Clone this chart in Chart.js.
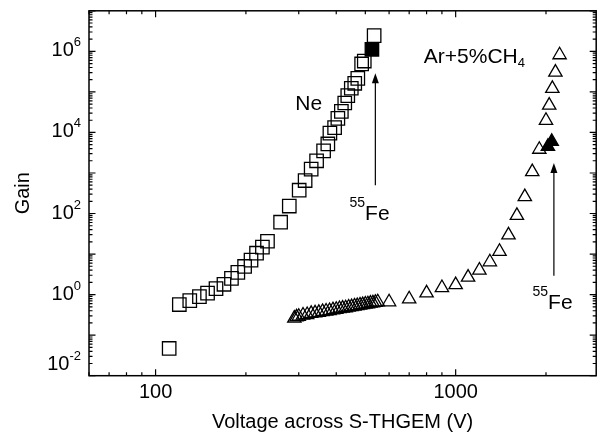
<!DOCTYPE html>
<html>
<head>
<meta charset="utf-8">
<script src="https://cdn.jsdelivr.net/npm/chart.js@4.4.0/dist/chart.umd.min.js"></script>
<style>
  html, body { margin: 0; padding: 0; background: #fff; }
  canvas { display: block; }
</style>
</head>
<body>
<canvas id="gainChart" width="607" height="434"></canvas>
<script>
// Ne: gain vs voltage across the S-THGEM
var neVoltage = [111, 120, 130, 140, 149, 159, 169, 179, 188, 198, 208, 217, 227, 236,
  261, 279, 301, 315, 330, 344, 363, 375, 381, 395, 405, 416, 427, 437, 449, 461, 472, 486, 496, 535];
var neGain = [0.047, 0.57, 0.71, 0.89, 1.09, 1.40, 1.80, 2.52, 3.53, 4.95, 7.1, 10.5, 14.8, 20.7,
  61, 153, 376, 651, 1240, 2000, 3500, 5190, 9620, 13100, 22300, 33000, 53200, 81000,
  123000, 163000, 216000, 488000, 577000, 2450000];
// Ne point taken with the 55Fe source
var neFeVoltage = [526];
var neFeGain = [1120000];

// Ar+5%CH4
var arVoltage = [290, 295, 300, 310, 320, 330, 340, 350, 360, 370, 380, 390, 400, 410,
  420, 430, 440, 450, 460, 470, 480, 490, 500, 510, 520, 530, 540, 550,
  600, 700, 800, 900, 1000, 1100, 1200, 1300, 1400, 1500, 1600, 1700, 1800, 1900,
  2000, 2050, 2100, 2150, 2220];
var arGain = [0.26, 0.28, 0.29, 0.31, 0.32, 0.34, 0.35, 0.36, 0.38, 0.39, 0.40, 0.42, 0.43, 0.45,
  0.46, 0.47, 0.49, 0.50, 0.52, 0.53, 0.55, 0.56, 0.58, 0.59, 0.61, 0.62, 0.64, 0.66,
  0.66, 0.78, 1.09, 1.48, 1.75, 2.67, 4.0, 6.4, 11.6, 29.4, 89, 258, 1070, 3810,
  19700, 46800, 121000, 303000, 817000];
// Ar+5%CH4 points taken with the 55Fe source
var arFeVoltage = [2030, 2090];
var arFeGain = [4500, 6000];

// axis ranges and labelled ticks
var xRange = [60, 2940];
var yRange = [0.01, 1e7];
var xTickLabels = [100, 1000];
var yTickExponents = [-2, 0, 2, 4, 6];

// arrows and text placed in data units
var arrows = [
  { x: 540, from: 500, to: 290000 },
  { x: 2125, from: 2.9, to: 1770 }
];
var notes = [
  { x: 292, y: 36500, parts: [['Ne', 'big', 0]] },
  { x: 443, y: 70, parts: [['55', 'sup', -13], ['Fe', 'big', 0]] },
  { x: 1804, y: 0.45, parts: [['55', 'sup', -13], ['Fe', 'big', 0]] },
  { x: 783, y: 516000, parts: [['Ar+5%CH', 'big', 0], ['4', 'sub', 4]] }
];

var FAMILY = '"Liberation Sans", Arial, sans-serif';
var fonts = {
  big: '21px ' + FAMILY,
  tick: '20px ' + FAMILY,
  sup: '14px ' + FAMILY,
  sub: '13px ' + FAMILY,
  tsup: '13px ' + FAMILY
};

function toPoints(xs, ys) {
  return xs.map(function (v, i) { return { x: v, y: ys[i] }; });
}

// 1..9 x 10^n between lo and hi
function logTicks(lo, hi) {
  var out = [];
  for (var e = Math.floor(Math.log10(lo)); e <= Math.ceil(Math.log10(hi)); e++) {
    for (var m = 1; m <= 9; m++) {
      var v = Number((m * Math.pow(10, e)).toPrecision(6));
      if (v >= lo && v <= hi) out.push({ value: v });
    }
  }
  return out;
}

function isDecade(v) {
  var l = Math.log10(v);
  return Math.abs(l - Math.round(l)) < 1e-9;
}

function drawParts(ctx, parts, x, y, alignRight) {
  var total = 0;
  parts.forEach(function (p) {
    ctx.font = fonts[p[1]];
    p.w = ctx.measureText(p[0]).width;
    total += p.w;
  });
  var cx = alignRight ? x - total : x;
  parts.forEach(function (p) {
    ctx.font = fonts[p[1]];
    ctx.fillText(p[0], cx, y + p[2]);
    cx += p.w;
  });
}

// box frame with inward ticks on all four sides, y labels, arrows and notes
var framePlugin = {
  id: 'frame',
  afterDatasetsDraw: function (chart) {
    var ctx = chart.ctx, a = chart.chartArea;
    var xs = chart.scales.x, ys = chart.scales.y;
    ctx.save();
    ctx.strokeStyle = '#000';
    ctx.fillStyle = '#000';

    ctx.lineWidth = 1.2;
    ctx.beginPath();
    xs.ticks.forEach(function (t) {
      var px = xs.getPixelForValue(t.value);
      var len = isDecade(t.value) ? 6.5 : 3.5;
      ctx.moveTo(px, a.bottom); ctx.lineTo(px, a.bottom - len);
      ctx.moveTo(px, a.top); ctx.lineTo(px, a.top + len);
    });
    ys.ticks.forEach(function (t) {
      var py = ys.getPixelForValue(t.value);
      var len = isDecade(t.value) ? 6.5 : 3.5;
      ctx.moveTo(a.left, py); ctx.lineTo(a.left + len, py);
      ctx.moveTo(a.right, py); ctx.lineTo(a.right - len, py);
    });
    ctx.stroke();

    ctx.lineWidth = 1.5;
    ctx.strokeRect(a.left, a.top, a.right - a.left, a.bottom - a.top);

    // y labels as 10 with a raised exponent
    ctx.textAlign = 'left';
    ctx.textBaseline = 'alphabetic';
    yTickExponents.forEach(function (e) {
      var py = ys.getPixelForValue(Math.pow(10, e));
      var base = Math.min(py + 5, a.bottom - 6);
      drawParts(ctx, [['10', 'tick', 0], [String(e), 'tsup', -10]], a.left - 8, base, true);
    });

    // arrows
    ctx.lineWidth = 1.2;
    arrows.forEach(function (ar) {
      var px = xs.getPixelForValue(ar.x);
      var y0 = ys.getPixelForValue(ar.from);
      var y1 = ys.getPixelForValue(ar.to);
      ctx.beginPath();
      ctx.moveTo(px, y0);
      ctx.lineTo(px, y1 + 8);
      ctx.stroke();
      ctx.beginPath();
      ctx.moveTo(px, y1);
      ctx.lineTo(px - 3.5, y1 + 10);
      ctx.lineTo(px + 3.5, y1 + 10);
      ctx.closePath();
      ctx.fill();
    });

    notes.forEach(function (n) {
      drawParts(ctx, n.parts, xs.getPixelForValue(n.x), ys.getPixelForValue(n.y), false);
    });
    ctx.restore();
  }
};

var markerBase = {
  borderColor: '#000',
  pointBorderWidth: 1.3,
  showLine: false
};

new Chart(document.getElementById('gainChart'), {
  type: 'scatter',
  data: {
    datasets: [
      Object.assign({ label: 'Ne', data: toPoints(neVoltage, neGain), pointStyle: 'rect',
        pointRadius: 9.5, backgroundColor: 'rgba(0,0,0,0)', pointBorderColor: '#000' }, markerBase),
      Object.assign({ label: 'Ne 55Fe', data: toPoints(neFeVoltage, neFeGain), pointStyle: 'rect',
        pointRadius: 9.5, backgroundColor: '#000', pointBorderColor: '#000' }, markerBase),
      Object.assign({ label: 'Ar+5%CH4', data: toPoints(arVoltage, arGain), pointStyle: 'triangle',
        pointRadius: 7.7, backgroundColor: 'rgba(0,0,0,0)', pointBorderColor: '#000' }, markerBase),
      Object.assign({ label: 'Ar+5%CH4 55Fe', data: toPoints(arFeVoltage, arFeGain), pointStyle: 'triangle',
        pointRadius: 7.7, backgroundColor: '#000', pointBorderColor: '#000' }, markerBase)
    ]
  },
  options: {
    responsive: false,
    animation: false,
    events: [],
    layout: { padding: { top: 7, right: 5.5, left: 0, bottom: 0 } },
    plugins: { legend: { display: false }, tooltip: { enabled: false } },
    scales: {
      x: {
        type: 'logarithmic',
        min: xRange[0],
        max: xRange[1],
        grid: { display: false },
        border: { display: false },
        afterBuildTicks: function (s) { s.ticks = logTicks(xRange[0], xRange[1]); },
        afterFit: function (s) { s.height = 58.3; },
        ticks: {
          autoSkip: false,
          maxRotation: 0,
          padding: -3,
          color: '#000',
          font: { family: FAMILY, size: 20 },
          callback: function (v) { return xTickLabels.indexOf(v) >= 0 ? String(v) : ''; }
        },
        title: {
          display: true,
          text: 'Voltage across S-THGEM (V)',
          color: '#000',
          font: { family: FAMILY, size: 20 },
          padding: { top: 0, bottom: 0 }
        }
      },
      y: {
        type: 'logarithmic',
        min: yRange[0],
        max: yRange[1],
        grid: { display: false },
        border: { display: false },
        afterBuildTicks: function (s) { s.ticks = logTicks(yRange[0], yRange[1]); },
        afterFit: function (s) { s.width = 89; },
        ticks: { display: false },
        title: {
          display: true,
          text: 'Gain',
          color: '#000',
          font: { family: FAMILY, size: 20 },
          padding: { top: 11, bottom: 0 }
        }
      }
    }
  },
  plugins: [framePlugin]
});
</script>
</body>
</html>
